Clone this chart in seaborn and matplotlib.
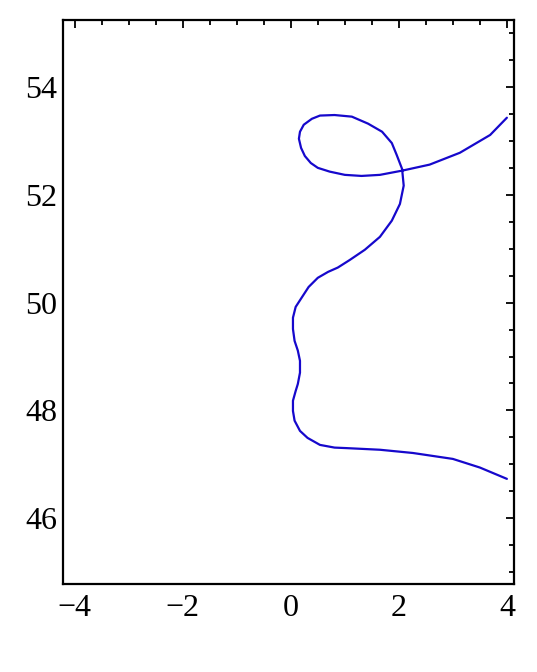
import matplotlib
matplotlib.use('Agg')
import matplotlib.pyplot as plt
import numpy as np
import pandas as pd
import seaborn as sns
from matplotlib.ticker import MultipleLocator

# Curve (parametric, in drawing order)
curve_x = [4.00, 3.50, 3.00, 2.26, 1.65, 1.04, 0.81, 0.54, 0.31, 0.17,
           0.07, 0.04, 0.04, 0.09, 0.13, 0.17, 0.17, 0.13, 0.07, 0.04,
           0.04, 0.09, 0.20, 0.33, 0.50, 0.69, 0.87, 1.09, 1.37, 1.65,
           1.87, 2.02, 2.09, 2.06, 1.96, 1.87, 1.69, 1.43, 1.13, 0.81,
           0.54, 0.39, 0.24, 0.17, 0.15, 0.19, 0.26, 0.37, 0.50, 0.72,
           1.00, 1.31, 1.65, 2.07, 2.57, 3.13, 3.69, 4.00]
curve_y = [46.73, 46.94, 47.10, 47.21, 47.27, 47.30, 47.31, 47.36, 47.49, 47.62,
           47.81, 47.99, 48.18, 48.36, 48.49, 48.70, 48.92, 49.11, 49.29, 49.51,
           49.72, 49.92, 50.09, 50.29, 50.46, 50.57, 50.65, 50.79, 50.98, 51.22,
           51.52, 51.83, 52.17, 52.48, 52.74, 52.96, 53.17, 53.32, 53.45, 53.48,
           53.47, 53.41, 53.30, 53.17, 53.04, 52.87, 52.72, 52.59, 52.50, 52.43,
           52.37, 52.35, 52.37, 52.45, 52.56, 52.78, 53.11, 53.43]

df = pd.DataFrame({'x': curve_x, 'y': curve_y})

sns.set_style('white')
plt.rcParams['font.family'] = ['Liberation Serif', 'DejaVu Serif']

fig = plt.figure(figsize=(5.37, 6.72), dpi=100)
ax = fig.add_axes([0.117, 0.131, 0.840, 0.839])

sns.lineplot(data=df, x='x', y='y', sort=False, estimator=None,
             color='#1608cc', linewidth=1.6, ax=ax)

ax.set_xlim(-4.22, 4.13)
ax.set_ylim(44.78, 55.24)
ax.xaxis.set_major_locator(MultipleLocator(2))
ax.xaxis.set_minor_locator(MultipleLocator(0.5))
ax.yaxis.set_major_locator(MultipleLocator(2))
ax.yaxis.set_minor_locator(MultipleLocator(0.5))
ax.tick_params(which='both', direction='in', top=True, right=True,
               color='black', width=1.3, labelcolor='black')
ax.tick_params(which='major', length=6, labelsize=23)
ax.tick_params(axis='x', which='major', pad=7)
ax.tick_params(axis='y', which='major', pad=4)
ax.tick_params(which='minor', length=3.5)
ax.set_xlabel('')
ax.set_ylabel('')
for s in ax.spines.values():
    s.set_linewidth(1.6)
    s.set_color('black')

fig.savefig('out.png', dpi=100)
